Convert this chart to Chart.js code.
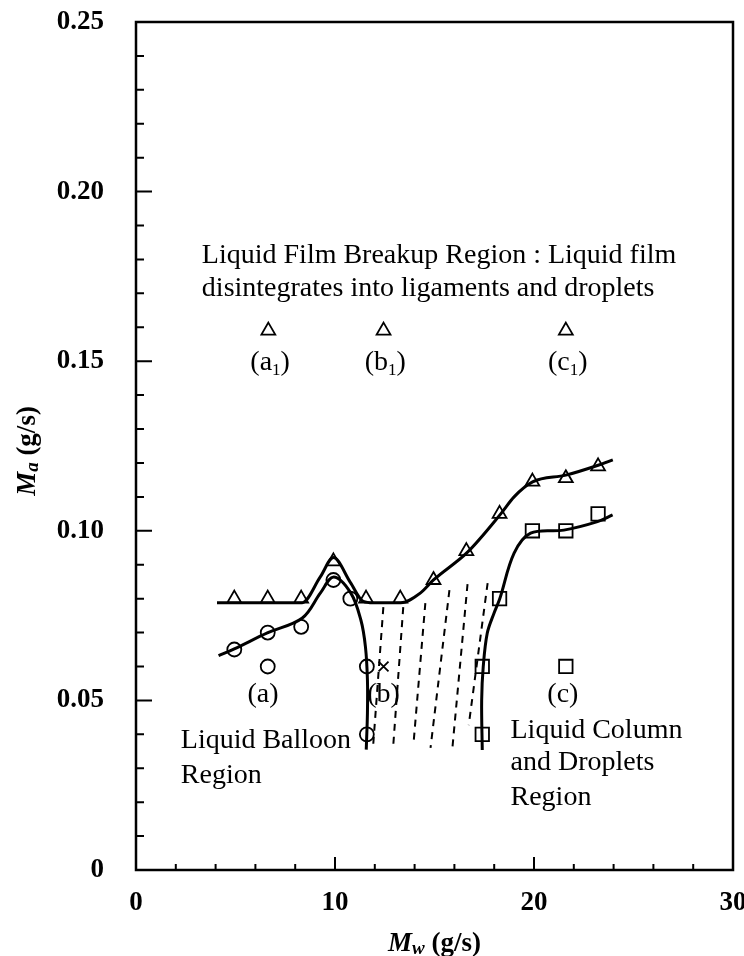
<!DOCTYPE html>
<html>
<head>
<meta charset="utf-8">
<title>Ma vs Mw regime map</title>
<script src="https://cdn.jsdelivr.net/npm/chart.js@4.4.1/dist/chart.umd.min.js"></script>
<style>
  html, body { margin:0; padding:0; background:#fff; }
  canvas { display:block; }
</style>
</head>
<body>
<canvas id="regimeChart" width="744" height="956"></canvas>
<script>
/* ── measured points (Mw g/s, Ma g/s) ── */
const TRI_X   = [4.94, 6.62, 8.3, 9.92, 11.56, 13.28, 14.95, 16.6, 18.27, 19.92, 21.6, 23.22, 6.65, 12.44, 21.6];
const TRI_Y   = [0.080, 0.080, 0.080, 0.091, 0.080, 0.080, 0.0855, 0.094, 0.105, 0.1145, 0.1155, 0.119, 0.159, 0.159, 0.159];
const CIR_X   = [4.94, 6.62, 8.3, 9.92, 10.77, 11.6, 11.6, 6.62];
const CIR_Y   = [0.065, 0.070, 0.0717, 0.0855, 0.080, 0.060, 0.040, 0.060];
const SQR_X   = [17.4, 17.4, 18.27, 19.92, 21.6, 23.22, 21.6];
const SQR_Y   = [0.060, 0.040, 0.080, 0.100, 0.100, 0.105, 0.060];
const CROSS_X = [12.44];
const CROSS_Y = [0.060];

/* ── boundary curves ── */
const FILM_X    = [4.07, 6.0, 8.35, 9.26, 9.92, 10.77, 11.42, 11.92, 13.3, 14.3, 14.95, 16.66, 18.33, 19.0, 19.93, 21.6, 23.26, 23.96];
const FILM_Y    = [0.0788, 0.0788, 0.0788, 0.0864, 0.0921, 0.0848, 0.0792, 0.0788, 0.0788, 0.0817, 0.0855, 0.0937, 0.105, 0.110, 0.1144, 0.1164, 0.1194, 0.1209];
const BALLOON_X = [4.15, 4.94, 6.6, 8.36, 9.27, 9.93, 10.79, 11.3, 11.53, 11.63, 11.63, 11.57];
const BALLOON_Y = [0.0632, 0.0652, 0.0699, 0.0743, 0.0817, 0.0864, 0.0817, 0.0737, 0.0658, 0.056, 0.0463, 0.0355];
const COLUMN_X  = [17.4, 17.37, 17.45, 17.65, 17.99, 18.27, 19.0, 19.83, 21.5, 23.19, 23.95];
const COLUMN_Y  = [0.0354, 0.050, 0.060, 0.0698, 0.0757, 0.0798, 0.0934, 0.0993, 0.1002, 0.1027, 0.1047];

/* ── transition hatch (dashed) ── */
const HATCH_TOP_X = [12.43, 13.43, 14.54, 15.75, 16.66, 17.67];
const HATCH_TOP_Y = [0.0775, 0.0775, 0.0787, 0.0825, 0.0843, 0.0846];
const HATCH_BOT_X = [11.92, 12.93, 13.94, 14.80, 15.90, 16.72];
const HATCH_BOT_Y = [0.0369, 0.0369, 0.0369, 0.0360, 0.0360, 0.0427];

/* ── text ── */
const X_TICKS = [0, 10, 20, 30];
const Y_TICKS = [0, 0.05, 0.10, 0.15, 0.20, 0.25];
const POINT_LABELS = ['(a_1)', '(b_1)', '(c_1)', '(a)', '(b)', '(c)'];
const NOTES = ['Liquid Film Breakup Region : Liquid film', 'disintegrates into ligaments and droplets',
               'Liquid Balloon', 'Region', 'Liquid Column', 'and Droplets', 'Region'];

/* label anchors in data units (layout, not data) */
const LABEL_AT = [[6.74,0.1474],[12.53,0.1474],[21.7,0.1474],[6.38,0.0495],[12.44,0.0495],[21.45,0.0495]];
const NOTE_AT  = [[3.31,0.1790],[3.31,0.1692],[2.25,0.0360],[2.25,0.0256],[18.82,0.0389],[18.82,0.0295],[18.82,0.0192]];

const SERIF = '"Liberation Serif", "Times New Roman", serif';

const pts = (xs, ys) => xs.map((v, i) => ({ x: v, y: ys[i] }));

function curve(xs, ys, mono) {
  const ds = { data: pts(xs, ys), showLine: true, borderColor: '#000', borderWidth: 3,
               pointRadius: 0, tension: 0.35, fill: false };
  if (mono) ds.cubicInterpolationMode = 'monotone';
  return ds;
}
function marks(xs, ys, style, r) {
  return { data: pts(xs, ys), showLine: false, pointStyle: style, pointRadius: r,
           pointBorderColor: '#000', pointBackgroundColor: 'rgba(0,0,0,0)', pointBorderWidth: 1.8 };
}
const hatch = HATCH_TOP_X.map((_, i) => ({
  data: [{ x: HATCH_TOP_X[i], y: HATCH_TOP_Y[i] }, { x: HATCH_BOT_X[i], y: HATCH_BOT_Y[i] }],
  showLine: true, borderColor: '#000', borderWidth: 2, borderDash: [7, 6], pointRadius: 0
}));

/* text with subscripts: "M_a" -> M + subscript a */
function drawRich(ctx, parts, x, y, align) {
  let w = 0;
  const sized = parts.map(p => { ctx.font = p.font; const pw = ctx.measureText(p.t).width; w += pw; return { ...p, w: pw }; });
  let cx = align === 'center' ? x - w / 2 : x;
  sized.forEach(p => { ctx.font = p.font; ctx.fillText(p.t, cx, y + (p.dy || 0)); cx += p.w; });
}
function subParts(str, size, subSize) {
  return str.split(/_(\w)/).map((t, i) => i % 2
    ? { t, font: `${subSize}px ${SERIF}`, dy: 5 }
    : { t, font: `${size}px ${SERIF}` });
}

// fixed plot box: no label-driven padding
function fixBox(size) {
  return s => {
    if (s.isHorizontal()) s.height = size; else s.width = size;
    s.paddingLeft = s.paddingRight = s.paddingTop = s.paddingBottom = 0;
  };
}

const frame = {
  id: 'frame',
  afterDraw(chart) {
    const { ctx, chartArea: a, scales: { x, y } } = chart;
    ctx.save();
    ctx.strokeStyle = '#000';
    ctx.lineWidth = 2.5;
    ctx.strokeRect(a.left, a.top, a.right - a.left, a.bottom - a.top);

    // inward ticks, minor every 2 (x) and 0.01 (y)
    ctx.lineWidth = 2;
    ctx.beginPath();
    for (let i = 1; i < 15; i++) {
      const px = x.getPixelForValue(i * 2);
      const len = i % 5 === 0 ? 13 : 6;
      ctx.moveTo(px, a.bottom); ctx.lineTo(px, a.bottom - len);
    }
    for (let i = 1; i < 25; i++) {
      const py = y.getPixelForValue(i / 100);
      const len = i % 5 === 0 ? 16 : 8;
      ctx.moveTo(a.left, py); ctx.lineTo(a.left + len, py);
    }
    ctx.stroke();

    ctx.fillStyle = '#000';
    ctx.textBaseline = 'alphabetic';
    ctx.textAlign = 'left';

    // axis titles
    const bi = `italic bold 27px ${SERIF}`, b = `bold 27px ${SERIF}`, sub = `italic bold 19px ${SERIF}`;
    drawRich(ctx, [{ t: 'M', font: bi }, { t: 'w', font: sub, dy: 3 }, { t: ' (g/s)', font: b }],
             (a.left + a.right) / 2, 951, 'center');
    ctx.save();
    ctx.translate(35, (a.top + a.bottom) / 2 + 5);
    ctx.rotate(-Math.PI / 2);
    drawRich(ctx, [{ t: 'M', font: bi }, { t: 'a', font: sub, dy: 3 }, { t: ' (g/s)', font: b }], 0, 0, 'center');
    ctx.restore();

    // point labels
    POINT_LABELS.forEach((s, i) => {
      drawRich(ctx, subParts(s, 28, 17), x.getPixelForValue(LABEL_AT[i][0]), y.getPixelForValue(LABEL_AT[i][1]), 'center');
    });
    // region notes
    ctx.font = `28px ${SERIF}`;
    NOTES.forEach((s, i) => {
      ctx.fillText(s, x.getPixelForValue(NOTE_AT[i][0]), y.getPixelForValue(NOTE_AT[i][1]));
    });
    ctx.restore();
  }
};

const tickFont = { family: SERIF, size: 27, weight: 'bold' };

new Chart(document.getElementById('regimeChart'), {
  type: 'scatter',
  data: {
    datasets: [
      curve(FILM_X, FILM_Y, true),
      curve(BALLOON_X, BALLOON_Y),
      curve(COLUMN_X, COLUMN_Y),
      ...hatch,
      marks(TRI_X, TRI_Y, 'triangle', 8),
      marks(CIR_X, CIR_Y, 'circle', 7),
      marks(SQR_X, SQR_Y, 'rect', 9.5),
      marks(CROSS_X, CROSS_Y, 'crossRot', 7)
    ]
  },
  options: {
    responsive: false,
    animation: false,
    events: [],
    layout: { padding: { top: 22, right: 11, left: 0, bottom: 0 }, autoPadding: false },
    plugins: { legend: { display: false }, tooltip: { enabled: false } },
    scales: {
      x: {
        type: 'linear', min: 0, max: 30,
        afterFit: fixBox(86),
        afterBuildTicks: s => { s.ticks = X_TICKS.map(v => ({ value: v })); },
        grid: { display: false, drawTicks: false }, border: { display: false },
        ticks: { padding: 17, color: '#000', font: tickFont }
      },
      y: {
        type: 'linear', min: 0, max: 0.25,
        afterFit: fixBox(136),
        afterBuildTicks: s => { s.ticks = Y_TICKS.map(v => ({ value: v })); },
        grid: { display: false, drawTicks: false }, border: { display: false },
        ticks: { padding: 32, color: '#000', font: tickFont,
                 callback: v => v === 0 ? '0' : v.toFixed(2) }
      }
    }
  },
  plugins: [frame]
});
</script>
</body>
</html>
